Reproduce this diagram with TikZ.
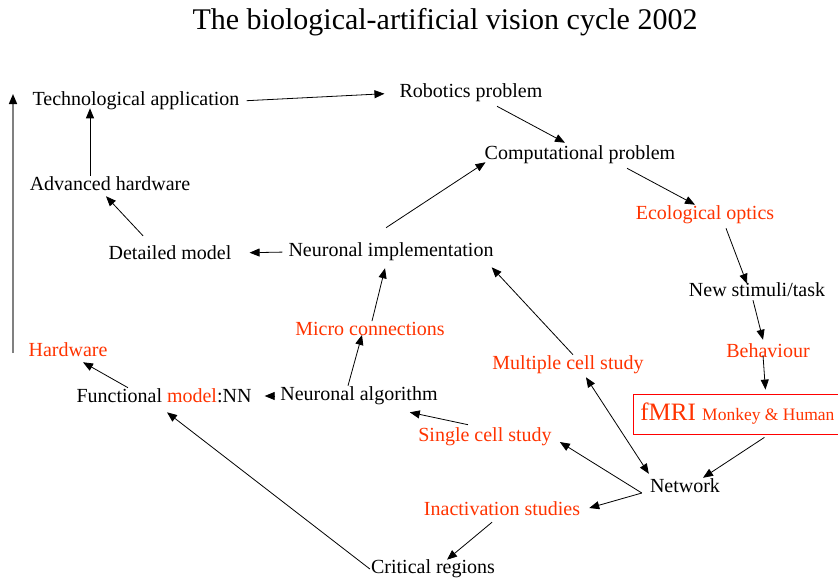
\documentclass[tikz,border=0pt]{standalone}
\usepackage{fontspec}
\setmainfont{Liberation Serif}
\usetikzlibrary{arrows.meta}
\definecolor{hotred}{RGB}{255,51,0}

\begin{document}
\begin{tikzpicture}[x=1pt,y=-1pt,
    txt/.style={font=\fontsize{20}{24}\selectfont,inner sep=1pt},
    hot/.style={txt,text=hotred},
    link/.style={-{Triangle[length=10pt,width=8pt]},line width=0.8pt},
    twolink/.style={{Triangle[length=10pt,width=8pt]}-{Triangle[length=10pt,width=8pt]},line width=0.8pt}]
    \useasboundingbox (0,0) rectangle (838,579);
    \node[inner sep=1pt,font=\fontsize{30}{36}\selectfont] (title) at (445,22) {The biological-artificial vision cycle 2002};
    \node[txt] (tech) at (136,101) {Technological application};
    \node[txt] (robot) at (471,93) {Robotics problem};
    \node[txt] (comp) at (580,155) {Computational problem};
    \node[txt] (adv) at (110,184) {Advanced hardware};
    \node[hot] (eco) at (705,215) {Ecological optics};
    \node[txt] (detail) at (170,253) {Detailed model};
    \node[txt] (impl) at (391,252) {Neuronal implementation};
    \node[txt] (stim) at (757,290) {New stimuli/task};
    \node[hot] (micro) at (370,329) {Micro connections};
    \node[hot] (hw) at (68,350) {Hardware};
    \node[hot] (beh) at (768,351) {Behaviour};
    \node[hot] (multi) at (568,365) {Multiple cell study};
    \node[txt] (func) at (164,396) {Functional \textcolor{hotred}{model}:NN};
    \node[txt] (algo) at (359,396) {Neuronal algorithm};
    \node[draw=red,line width=0.8pt,anchor=west,inner xsep=7pt,minimum height=40pt,text=hotred] (fmri) at (633,414)
        {\fontsize{25}{30}\selectfont fMRI \fontsize{17.5}{21}\selectfont Monkey \& Human};
    \node[hot] (single) at (485,437) {Single cell study};
    \node[txt] (net) at (685,486) {Network};
    \node[hot] (inact) at (502,509) {Inactivation studies};
    \node[txt] (crit) at (433,569) {Critical regions};
    \coordinate (vbot) at (13,353);
    \coordinate (vtop) at (13,94);
    \draw[-{Triangle[length=10pt,width=8pt,color=black]},draw=gray,line width=1.5pt] (vbot) -- (vtop);
    \draw[link,shorten <=6pt,shorten >=14pt] (tech.east) -- (robot.west);
    \draw[link] ([xshift=-20pt]adv.north) -- ([xshift=-46pt,yshift=3pt]tech.south);
    \draw[link] ([xshift=-27pt,yshift=9pt]detail.north) -- ([xshift=-4pt,yshift=-4pt]adv.south);
    \draw[link,shorten <=5pt,shorten >=17pt] (impl.west) -- (detail.east);
    \draw[link] ([xshift=-5pt,yshift=14pt]impl.north) -- ([xshift=2pt,yshift=3pt]comp.south west);
    \draw[link] ([xshift=26pt,yshift=-3pt]robot.south) -- ([xshift=-15pt,yshift=2pt]comp.north);
    \draw[link] ([xshift=47pt,yshift=-3pt]comp.south) -- ([xshift=-10pt]eco.north);
    \draw[link] ([xshift=21pt,yshift=-3pt]eco.south) -- ([xshift=-10pt,yshift=-2pt]stim.north);
    \draw[link] ([xshift=-4pt,yshift=-2pt]stim.south) -- ([xshift=-5pt,yshift=3pt]beh.north);
    \draw[link] ([xshift=-5pt,yshift=4pt]beh.south) -- ([xshift=28pt,yshift=4pt]fmri.north);
    \draw[link] ([xshift=27pt,yshift=-3pt]fmri.south) -- ([xshift=18pt]net.north);
    \draw[twolink] ([yshift=4pt]net.north west) -- ([xshift=18pt,yshift=-2pt]multi.south);
    \draw[link] ([xshift=5pt]multi.north) -- ([xshift=-3pt,yshift=-5pt]impl.south east);
    \draw[link] ([xshift=-7pt,yshift=-7pt]net.west) -- ([xshift=7pt,yshift=-5pt]single.east);
    \draw[link] ([xshift=-7pt,yshift=-7pt]net.west) -- ([xshift=8pt,yshift=1pt]inact.east);
    \draw[link] ([xshift=-17pt,yshift=2pt]single.north) -- ([xshift=-29pt,yshift=-6pt]algo.south east);
    \draw[link] ([xshift=-10pt,yshift=-5pt]inact.south) -- ([xshift=14pt,yshift=-1pt]crit.north);
    \draw[link] (crit.west) -- ([xshift=3pt,yshift=-8pt]func.south);
    \draw[link,shorten <=4pt,shorten >=12pt] (algo.west) -- (func.east);
    \draw[link] ([xshift=-11pt]algo.north) -- ([xshift=-8pt,yshift=2pt]micro.south);
    \draw[link] ([xshift=2pt]micro.north) -- ([xshift=-6pt,yshift=-6pt]impl.south);
    \draw[link] ([xshift=-36pt]func.north) -- ([xshift=15pt,yshift=-4pt]hw.south);
\end{tikzpicture}
\end{document}
